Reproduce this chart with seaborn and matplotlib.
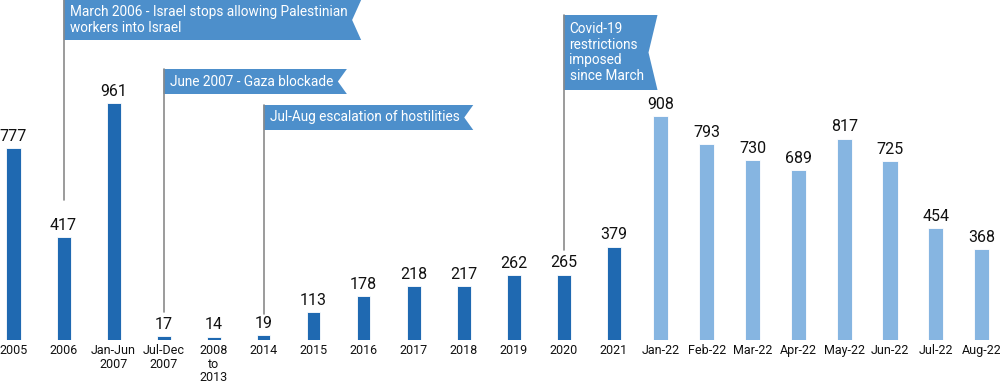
import matplotlib
matplotlib.use("Agg")
import matplotlib.pyplot as plt
import seaborn as sns
import pandas as pd
from matplotlib.patches import Polygon
from matplotlib.lines import Line2D

# Data
year_labels = ["2005", "2006", "Jan-Jun\n2007", "Jul-Dec\n2007", "2008\nto\n2013", "2014",
               "2015", "2016", "2017", "2018", "2019", "2020", "2021"]
year_values = [777, 417, 961, 17, 14, 19, 113, 178, 218, 217, 262, 265, 379]
month_labels = ["Jan-22", "Feb-22", "Mar-22", "Apr-22", "May-22", "Jun-22", "Jul-22", "Aug-22"]
month_values = [908, 793, 730, 689, 817, 725, 454, 368]

# (text, bar index in the yearly panel, top px, bottom px, flag right px, line end px)
events = [
    ("March 2006 - Israel stops allowing Palestinian\nworkers into Israel", 1, 0, 40, 357, 200),
    ("June 2007 - Gaza blockade", 3, 69, 94, 336, 312),
    ("Jul-Aug escalation of hostilities", 5, 105, 130, 461, 314),
    ("Covid-19\nrestrictions\nimposed\nsince March", 11, 15, 90, 650, 250),
]

DARK = "#1f69b1"
LIGHT = "#86b5e1"
FLAG = "#4d8fcb"
W, H = 1000, 388

sns.set_theme(style="white")
plt.rcParams["font.family"] = ["Roboto", "DejaVu Sans"]

fig = plt.figure(figsize=(10, 3.88), dpi=100)
bottom = 48 / H
ymax = 1379
ax1 = fig.add_axes([0, bottom, 635 / W, 1 - bottom])
ax2 = fig.add_axes([638 / W, bottom, 362 / W, 1 - bottom])

df_y = pd.DataFrame({"period": year_labels, "value": year_values})
df_m = pd.DataFrame({"period": month_labels, "value": month_values})

sns.barplot(data=df_y, x="period", y="value", color=DARK, width=0.28, saturation=1,
            edgecolor="white", linewidth=0.6, ax=ax1)
sns.barplot(data=df_m, x="period", y="value", color=LIGHT, width=0.33, saturation=1,
            edgecolor="white", linewidth=0.6, ax=ax2)

ax1.set_xlim(-0.27, 12.43)
ax2.set_xlim(-0.5, 7.4)
for ax in (ax1, ax2):
    ax.set_ylim(0, ymax)
    ax.bar_label(ax.containers[0], padding=3, fontsize=11.5, color="#111111")
    ax.set_xlabel("")
    ax.set_ylabel("")
    ax.set_yticks([])
    ax.tick_params(axis="x", length=0, pad=3, labelsize=9, colors="#111111")
    for lbl in ax.get_xticklabels():
        lbl.set_linespacing(1.05)
    sns.despine(ax=ax, left=True, bottom=True)
    ax.patch.set_alpha(0)

fig.canvas.draw()
renderer = fig.canvas.get_renderer()


def fy(py):
    return 1 - py / H


# callout flags with guide lines
for text, idx, top, bot, right, end in events:
    x0 = ax1.transData.transform((idx, 0))[0]
    mid = (top + bot) / 2
    t = fig.text((x0 + 6) / W, fy(mid), text, color="white", fontsize=9.8, ha="left",
                 va="center", linespacing=1.15, zorder=7)
    tw = t.get_window_extent(renderer).x1
    right = max(right, tw + 14)
    notch = 9
    pts = [(x0 / W, fy(top)), (right / W, fy(top)), ((right - notch) / W, fy(mid)),
           (right / W, fy(bot)), (x0 / W, fy(bot))]
    fig.add_artist(Polygon(pts, closed=True, facecolor=FLAG, edgecolor="none",
                           transform=fig.transFigure, zorder=5))
    fig.add_artist(Line2D([x0 / W, x0 / W], [fy(top), fy(end)], color="#8a8a8a",
                          lw=1.2, transform=fig.transFigure, zorder=6))

fig.savefig("out.png", dpi=100)
